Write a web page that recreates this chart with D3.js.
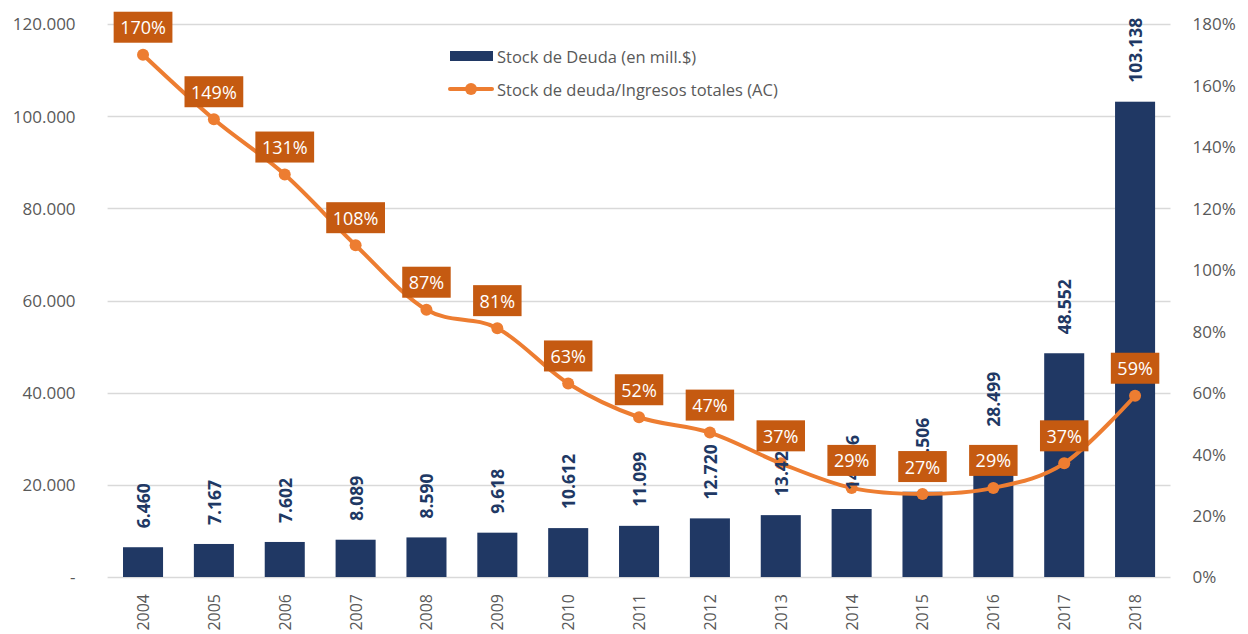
<!DOCTYPE html>
<html>
<head>
<meta charset="utf-8">
<script src="https://cdn.jsdelivr.net/npm/d3@7"></script>
<style>
  body { margin: 0; background: #fff; }
  text { font-family: "Open Sans", sans-serif; }
</style>
</head>
<body>
<div id="chart"></div>
<script>
var svgWidth = 1248;
var svgHeight = 634;

// data
var years = ["2004", "2005", "2006", "2007", "2008", "2009", "2010", "2011", "2012", "2013", "2014", "2015", "2016", "2017", "2018"];
var stockDeuda = [6460, 7167, 7602, 8089, 8590, 9618, 10612, 11099, 12720, 13425, 14756, 18506, 28499, 48552, 103138];
var ratioIngresos = [1.70, 1.49, 1.31, 1.08, 0.87, 0.81, 0.63, 0.52, 0.47, 0.37, 0.29, 0.27, 0.29, 0.37, 0.59];
var leftTicks = [0, 20000, 40000, 60000, 80000, 100000, 120000];
var rightTicks = [0, 0.2, 0.4, 0.6, 0.8, 1.0, 1.2, 1.4, 1.6, 1.8];
var seriesNames = ["Stock de Deuda (en mill.$)", "Stock de deuda/Ingresos totales (AC)"];

var plot = { left: 107.6, right: 1170.5, top: 24, bottom: 577 };

var locale = d3.formatLocale({ decimal: ",", thousands: ".", grouping: [3], currency: ["$", ""] });
var fmtNum = locale.format(",.0f");
var fmtPct = d3.format(".0%");

var svg = d3.select("#chart")
  .append("svg")
  .attr("width", svgWidth)
  .attr("height", svgHeight);

var x = d3.scaleBand()
  .domain(years)
  .range([plot.left, plot.right])
  .paddingInner(0.435)
  .paddingOuter(0.2175);

var yLeft = d3.scaleLinear().domain([0, 120000]).range([plot.bottom, plot.top]);
var yRight = d3.scaleLinear().domain([0, 1.8]).range([plot.bottom, plot.top]);

// gridlines
svg.append("g")
  .selectAll("line")
  .data(leftTicks)
  .enter()
  .append("line")
  .attr("x1", plot.left)
  .attr("x2", plot.right)
  .attr("y1", d => Math.round(yLeft(d)) + 0.5)
  .attr("y2", d => Math.round(yLeft(d)) + 0.5)
  .attr("stroke", "#d9d9d9")
  .attr("stroke-width", 1.3);

// left axis
var leftAxis = svg.append("g")
  .attr("transform", `translate(${plot.left - 32}, 0)`)
  .call(d3.axisLeft(yLeft).tickValues(leftTicks).tickSize(0).tickPadding(0)
    .tickFormat(d => d === 0 ? "-" : fmtNum(d)));
leftAxis.select(".domain").remove();
leftAxis.selectAll("text")
  .attr("fill", "#595959")
  .style("font-size", "17px")
  .attr("dy", "0.35em");

// right axis
var rightAxis = svg.append("g")
  .attr("transform", `translate(${plot.right + 22}, 0)`)
  .call(d3.axisRight(yRight).tickValues(rightTicks).tickSize(0).tickPadding(0)
    .tickFormat(fmtPct));
rightAxis.select(".domain").remove();
rightAxis.selectAll("text")
  .attr("fill", "#595959")
  .style("font-size", "17px")
  .attr("dy", "0.35em");

// x axis labels (rotated)
var xAxis = svg.append("g")
  .attr("transform", `translate(0, ${plot.bottom})`)
  .call(d3.axisBottom(x).tickSize(0).tickPadding(0));
xAxis.select(".domain").remove();
xAxis.selectAll("text")
  .attr("fill", "#595959")
  .style("font-size", "16px")
  .style("text-anchor", "end")
  .attr("dy", null)
  .attr("y", 0)
  .attr("transform", "translate(0, 17) rotate(-90)")
  .attr("dominant-baseline", "central");

// bars
svg.append("g")
  .selectAll("rect")
  .data(stockDeuda)
  .enter()
  .append("rect")
  .attr("x", (d, i) => x(years[i]))
  .attr("y", d => yLeft(d))
  .attr("width", x.bandwidth())
  .attr("height", d => plot.bottom - yLeft(d))
  .attr("fill", "#203864");

// smoothed line
var line = d3.line()
  .x((d, i) => x(years[i]) + x.bandwidth() / 2)
  .y(d => yRight(d))
  .curve(d3.curveCatmullRom.alpha(0));

svg.append("path")
  .datum(ratioIngresos)
  .attr("d", line)
  .attr("fill", "none")
  .attr("stroke", "#ed7d31")
  .attr("stroke-width", 4)
  .attr("stroke-linecap", "round");

svg.append("g")
  .selectAll("circle")
  .data(ratioIngresos)
  .enter()
  .append("circle")
  .attr("cx", (d, i) => x(years[i]) + x.bandwidth() / 2)
  .attr("cy", d => yRight(d))
  .attr("r", 6)
  .attr("fill", "#ed7d31");

// bar value labels
svg.append("g")
  .selectAll("text")
  .data(stockDeuda)
  .enter()
  .append("text")
  .attr("transform", (d, i) => `translate(${x(years[i]) + x.bandwidth() / 2}, ${yLeft(d) - 19}) rotate(-90)`)
  .attr("dominant-baseline", "central")
  .attr("fill", "#203864")
  .style("font-size", "17.5px")
  .style("font-weight", "bold")
  .text(d => fmtNum(d));

// line value labels in boxes
var boxes = svg.append("g")
  .selectAll("g")
  .data(ratioIngresos)
  .enter()
  .append("g")
  .attr("transform", (d, i) => `translate(${x(years[i]) + x.bandwidth() / 2}, ${yRight(d) - 27.5})`);

var boxRects = boxes.append("rect").attr("fill", "#c55a11");
var boxTexts = boxes.append("text")
  .attr("text-anchor", "middle")
  .attr("dominant-baseline", "central")
  .attr("fill", "#ffffff")
  .style("font-size", "18px")
  .text(d => fmtPct(d));

boxTexts.each(function() {
  var w = this.getComputedTextLength() + 13;
  d3.select(this.previousSibling)
    .attr("x", -w / 2)
    .attr("y", -15.5)
    .attr("width", w)
    .attr("height", 31);
});

// legend
var legend = svg.append("g");
legend.append("rect")
  .attr("x", 450).attr("y", 51)
  .attr("width", 43).attr("height", 10)
  .attr("fill", "#203864");
legend.append("line")
  .attr("x1", 450).attr("x2", 492)
  .attr("y1", 89).attr("y2", 89)
  .attr("stroke", "#ed7d31").attr("stroke-width", 4)
  .attr("stroke-linecap", "round");
legend.append("circle")
  .attr("cx", 471).attr("cy", 89).attr("r", 6)
  .attr("fill", "#ed7d31");
legend.selectAll("text.leg")
  .data(seriesNames)
  .enter()
  .append("text")
  .attr("class", "leg")
  .attr("x", 497)
  .attr("y", (d, i) => 56 + i * 33)
  .attr("dominant-baseline", "central")
  .attr("fill", "#595959")
  .style("font-size", "16.5px")
  .text(d => d);
</script>
</body>
</html>
